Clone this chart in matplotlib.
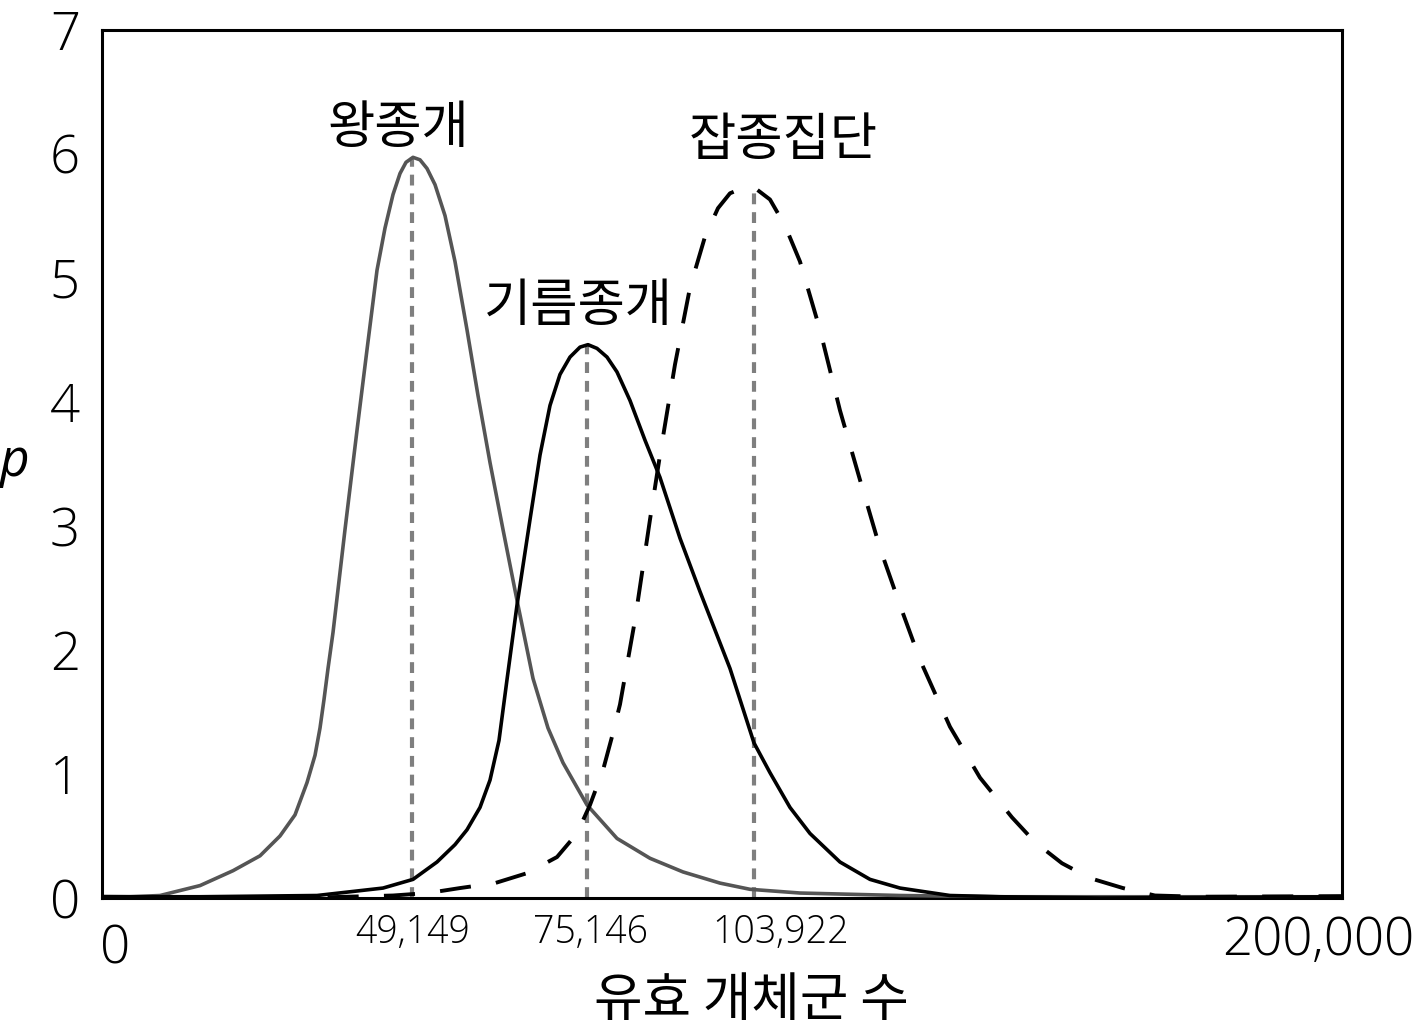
import matplotlib
matplotlib.use("Agg")
import matplotlib.pyplot as plt
import matplotlib.transforms as mtransforms

plt.rcParams['font.family'] = ['Open Sans', 'Noto Sans CJK KR', 'DejaVu Sans']
plt.rcParams['font.weight'] = 'light'
KR = ['Noto Sans CJK KR', 'DejaVu Sans']

# 왕종개 (gray solid)
wang_x = [0, 4516, 9355, 15806, 21129, 25484, 28710, 31129, 33065, 34355,
          35161, 35806, 36452, 37258, 39194, 41129, 42742, 44355, 45645, 46935,
          48065, 49032, 50161, 51290, 52419, 53710, 55323, 56935, 58871, 60645,
          62581, 64677, 66935, 69516, 71935, 74355, 78226, 83065, 88387, 93710,
          99677, 104516, 112581, 128710, 144839, 200000]
wang_y = [0.01, 0.01, 0.02, 0.10, 0.22, 0.34, 0.50, 0.67, 0.93, 1.15,
          1.37, 1.60, 1.85, 2.14, 2.97, 3.77, 4.42, 5.06, 5.40, 5.67,
          5.84, 5.93, 5.97, 5.95, 5.88, 5.75, 5.50, 5.13, 4.58, 4.05,
          3.51, 2.97, 2.40, 1.77, 1.37, 1.09, 0.75, 0.48, 0.32, 0.21,
          0.12, 0.07, 0.04, 0.02, 0.01, 0.01]

# 기름종개 (black solid)
gireum_x = [0, 15806, 34677, 45323, 50161, 54032, 56935, 58871, 60968, 62581,
            64032, 65323, 66935, 69032, 70645, 72258, 73871, 75484, 77097, 78387,
            79839, 81452, 83065, 85161, 87581, 90000, 93226, 96452, 101290, 105161,
            107742, 110968, 114194, 119032, 123871, 128710, 136774, 144839, 160968,
            200000]
gireum_y = [0.01, 0.01, 0.02, 0.08, 0.15, 0.29, 0.43, 0.55, 0.73, 0.95,
            1.27, 1.76, 2.36, 3.05, 3.57, 3.97, 4.22, 4.36, 4.44, 4.46,
            4.43, 4.36, 4.24, 4.01, 3.69, 3.39, 2.90, 2.47, 1.85, 1.25,
            1.01, 0.73, 0.52, 0.29, 0.15, 0.08, 0.02, 0.01, 0.0,
            0.01]

# 잡종집단 (black dashed)
hybrid_x = [0, 31935, 46935, 52581, 57742, 63387, 68548, 73387, 76613, 78710,
            80806, 82258, 83548, 85968, 88387, 90000, 92419, 94839, 97258, 99355,
            101290, 103710, 105645, 107742, 110161, 112581, 115806, 119032, 122258,
            125484, 128710, 131935, 136774, 141613, 146774, 150484, 154839, 159355,
            164677, 169839, 177097, 200000]
hybrid_y = [0.01, 0.0, 0.02, 0.04, 0.08, 0.12, 0.20, 0.33, 0.52, 0.75,
            1.03, 1.30, 1.56, 2.24, 3.05, 3.57, 4.30, 4.92, 5.33, 5.56,
            5.68, 5.73, 5.71, 5.63, 5.42, 5.13, 4.58, 3.93, 3.37,
            2.82, 2.36, 1.92, 1.38, 0.97, 0.65, 0.45, 0.28, 0.16,
            0.08, 0.02, 0.01, 0.015]

# peak markers (where they sit on the drawing) and their labels
peak_x = [50000, 78226, 105161]
peak_y = [5.97, 4.46, 5.73]
peak_labels = ["49,149", "75,146", "103,922"]
names = ["왕종개", "기름종개", "잡종집단"]

fig = plt.figure(figsize=(14.19, 10.33), dpi=100)
ax = fig.add_axes([0.0719, 0.1307, 0.8738, 0.8407])

for x, y in zip(peak_x, peak_y):
    ax.plot([x, x], [0, y], color="#7f7f7f", lw=3.0, dashes=(2.6, 1.9), zorder=1)

ax.plot(wang_x, wang_y, color="#555555", lw=2.6, zorder=3, solid_joinstyle="round")
ax.plot(gireum_x, gireum_y, color="black", lw=2.6, zorder=3, solid_joinstyle="round")
ax.plot(hybrid_x, hybrid_y, color="black", lw=2.8, dashes=(8.0, 6.5), zorder=3)

ax.set_xlim(0, 200000)
ax.set_ylim(0, 7)
for s in ax.spines.values():
    s.set_linewidth(2.2)

ax.set_yticks(range(0, 8))
ax.tick_params(axis="y", length=0, pad=16, labelsize=38)
ax.set_xticks([0, 200000])
ax.set_xticklabels(["0", "200,000"])
ax.tick_params(axis="x", length=0, pad=12, labelsize=38)
xl = ax.get_xticklabels()
xl[0].set_transform(xl[0].get_transform() + mtransforms.ScaledTranslation(13/100, -8/100, fig.dpi_scale_trans))
xl[1].set_transform(xl[1].get_transform() + mtransforms.ScaledTranslation(-24/100, 0, fig.dpi_scale_trans))

# small value labels under each peak line
lab_off = [1, 4, 27]
for x, t, o in zip(peak_x, peak_labels, lab_off):
    ax.annotate(t, xy=(x, 0), xycoords="data", xytext=(o * 0.72, -25),
                textcoords="offset points", ha="center", va="center", fontsize=27)

# names above peaks
name_off = [(-10, 21), (-6.5, 28), (21, 34)]
for x, y, n, o in zip(peak_x, peak_y, names, name_off):
    ax.annotate(n, xy=(x, y), xycoords="data", xytext=o, family=KR, fontweight=300,
                textcoords="offset points", ha="center", va="center", fontsize=37)

ax.set_xlabel("유효 개체군 수", fontsize=38, va="center", family=KR, fontweight=300)
ax.xaxis.set_label_coords(0.524, -0.1175)
ax.set_ylabel("p", fontsize=37, style="italic", rotation=0, va="center", ha="center")
ax.yaxis.set_label_coords(-0.071, 0.502)

plt.savefig("out.png", dpi=100)
